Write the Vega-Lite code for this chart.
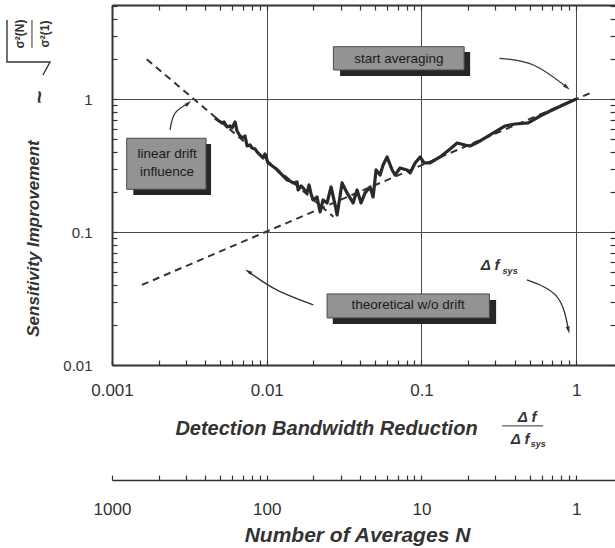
{
  "$schema": "https://vega.github.io/schema/vega-lite/v6.json",
  "width": 503,
  "height": 360,
  "autosize": {"type": "none"},
  "padding": {"left": 112, "top": 5, "right": 0, "bottom": 183},
  "background": "white",
  "config": {"view": {"stroke": null}, "font": "Liberation Sans"},
  "resolve": {"axis": {"x": "independent", "y": "independent"}},
  "datasets": {
    "curve": [
      {"x":0.004633,"y":0.7208},{"x":0.004917,"y":0.6844},{"x":0.005141,"y":0.6612},{"x":0.005297,"y":0.6727},
      {"x":0.005539,"y":0.6168},{"x":0.005791,"y":0.6276},{"x":0.005966,"y":0.6064},{"x":0.006238,"y":0.6727},
      {"x":0.006427,"y":0.5757},{"x":0.006721,"y":0.528},{"x":0.007027,"y":0.5101},{"x":0.00724,"y":0.528},
      {"x":0.00746,"y":0.444},{"x":0.0078,"y":0.4517},{"x":0.008035,"y":0.4288},{"x":0.008402,"y":0.4214},
      {"x":0.008658,"y":0.4001},{"x":0.00905,"y":0.3799},{"x":0.009465,"y":0.3607},{"x":0.00975,"y":0.3866},
      {"x":0.01019,"y":0.3308},{"x":0.01066,"y":0.3195},{"x":0.01131,"y":0.3034},{"x":0.01183,"y":0.288},
      {"x":0.01219,"y":0.2781},{"x":0.01275,"y":0.2641},{"x":0.01353,"y":0.2464},{"x":0.01415,"y":0.2422},
      {"x":0.01479,"y":0.234},{"x":0.0157,"y":0.2381},{"x":0.01594,"y":0.2073},{"x":0.01666,"y":0.2221},
      {"x":0.01717,"y":0.2146},{"x":0.01822,"y":0.1968},{"x":0.01877,"y":0.2259},{"x":0.01934,"y":0.1934},
      {"x":0.01992,"y":0.1743},{"x":0.02114,"y":0.1836},{"x":0.02211,"y":0.1416},{"x":0.02312,"y":0.1743},
      {"x":0.02454,"y":0.1655},{"x":0.02604,"y":0.2183},{"x":0.02764,"y":0.1599},{"x":0.02848,"y":0.1345},
      {"x":0.03068,"y":0.234},{"x":0.03304,"y":0.1968},{"x":0.03614,"y":0.1655},{"x":0.03835,"y":0.2073},
      {"x":0.0407,"y":0.1655},{"x":0.04319,"y":0.1968},{"x":0.04654,"y":0.2183},{"x":0.04867,"y":0.1836},
      {"x":0.05088,"y":0.2931},{"x":0.05401,"y":0.2687},{"x":0.05647,"y":0.3195},{"x":0.05993,"y":0.367},
      {"x":0.06456,"y":0.2931},{"x":0.0675,"y":0.2687},{"x":0.07272,"y":0.3034},{"x":0.08071,"y":0.2931},
      {"x":0.0844,"y":0.2781},{"x":0.09092,"y":0.3308},{"x":0.09795,"y":0.367},{"x":0.1039,"y":0.3308},
      {"x":0.1136,"y":0.3308},{"x":0.1319,"y":0.367},{"x":0.1531,"y":0.4214},{"x":0.1699,"y":0.4677},
      {"x":0.1913,"y":0.4517},{"x":0.2062,"y":0.444},{"x":0.2392,"y":0.4842},{"x":0.2775,"y":0.5372},
      {"x":0.3471,"y":0.6276},{"x":0.4027,"y":0.6498},{"x":0.4888,"y":0.6612},{"x":0.5846,"y":0.7461},
      {"x":0.6782,"y":0.8137},{"x":0.8476,"y":0.9188},{"x":1.0,"y":1.0}
    ],
    "arrows": [
      {"id":"a1","o":1,"x":0.3189,"y":2.027},{"id":"a1","o":2,"x":0.5289,"y":1.805},{"id":"a1","o":3,"x":0.8694,"y":1.227},
      {"id":"a2","o":1,"x":0.002371,"y":0.5857},{"id":"a2","o":2,"x":0.002555,"y":0.7823},{"id":"a2","o":3,"x":0.003113,"y":0.9299},
      {"id":"a3","o":1,"x":0.02001,"y":0.0283},{"id":"a3","o":2,"x":0.0116,"y":0.03669},{"id":"a3","o":3,"x":0.007605,"y":0.05039},
      {"id":"a4","o":1,"x":0.4795,"y":0.04363},{"id":"a4","o":2,"x":0.7493,"y":0.03267},{"id":"a4","o":3,"x":0.8905,"y":0.01836}
    ],
    "shadows": [
      {"x":0.02977,"x2":0.2062,"y":2.261,"y2":1.492},
      {"x":0.001373,"x2":0.004365,"y":0.4597,"y2":0.1901},
      {"x":0.02671,"x2":0.3035,"y":0.03087,"y2":0.02037}
    ],
    "boxes": [
      {"x":0.02695,"x2":0.1886,"y":2.477,"y2":1.655},
      {"x":0.001245,"x2":0.004052,"y":0.5074,"y2":0.2098},
      {"x":0.02454,"x2":0.2747,"y":0.03424,"y2":0.0226}
    ],
    "boxText": [
      {"x":0.07134,"y":2.013,"t":"start averaging"},
      {"x":0.002268,"y":0.3866,"t":"linear drift"},
      {"x":0.002268,"y":0.2831,"t":"influence"},
      {"x":0.08193,"y":0.0283,"t":"theoretical w/o drift"}
    ]
  },
  "layer": [
    {
      "data": {"values": [{"x":0.00156,"y":0.04},{"x":1.23,"y":1.11}]},
      "mark": {"type":"line","color":"#333","strokeWidth":2,"strokeDash":[7,5]},
      "encoding": {
        "x": {"field":"x","type":"quantitative","scale":{"type":"log","domain":[0.001,1.78],"nice":false},
          "axis":{"orient":"top","values":[0.001,0.002,0.003,0.004,0.005,0.006,0.007,0.008,0.009,0.01,0.02,0.03,0.04,0.05,0.06,0.07,0.08,0.09,0.1,0.2,0.3,0.4,0.5,0.6,0.7,0.8,0.9,1],
            "labels":false,"grid":false,"title":null,"tickSize":-5,"tickColor":"#333","tickWidth":1.2,"domainColor":"#333","domainWidth":2}},
        "y": {"field":"y","type":"quantitative","scale":{"type":"log","domain":[0.01,5.1],"nice":false},
          "axis":{"orient":"right","values":[0.01,0.02,0.03,0.04,0.05,0.06,0.07,0.08,0.09,0.1,0.2,0.3,0.4,0.5,0.6,0.7,0.8,0.9,1,2,3,4,5],
            "labels":false,"grid":false,"title":null,"tickSize":-5,"tickColor":"#333","tickWidth":1.2,"domain":false}}
      }
    },
    {
      "data": {"values": [{"x":0.001676,"y":1.99},{"x":0.02695,"y":0.1305}]},
      "mark": {"type":"line","color":"#333","strokeWidth":2,"strokeDash":[7,5]},
      "encoding": {
        "x": {"field":"x","type":"quantitative",
          "axis":{"orient":"bottom","offset":115,"values":[0.001,0.002,0.003,0.004,0.005,0.006,0.007,0.008,0.009,0.01,0.02,0.03,0.04,0.05,0.06,0.07,0.08,0.09,0.1,0.2,0.3,0.4,0.5,0.6,0.7,0.8,0.9,1],
            "labelExpr":"abs(log(datum.value)/LN10 - round(log(datum.value)/LN10)) < 0.001 ? format(1/datum.value, '.0f') : ''",
            "labelFontSize":17,"labelColor":"#333","labelPadding":26,"labelFlush":false,"labelOverlap":false,"labelBaseline":"top",
            "grid":false,"tickSize":-5,"tickColor":"#333","tickWidth":1.2,"domainColor":"#333","domainWidth":1.5,
            "title":"Number of Averages N","titleFontSize":21,"titleFontWeight":"bold","titleFontStyle":"italic","titleColor":"#333",
            "titleX":245,"titleY":55,"titleAlign":"center","titleBaseline":"middle"}},
        "y": {"field":"y","type":"quantitative","axis":null}
      }
    },
    {
      "data": {"name":"curve"},
      "mark": {"type":"line","color":"#2a2a2a","strokeWidth":3.2,"strokeJoin":"round"},
      "encoding": {
        "x": {"field":"x","type":"quantitative",
          "axis":{"orient":"bottom","values":[0.001,0.002,0.003,0.004,0.005,0.006,0.007,0.008,0.009,0.01,0.02,0.03,0.04,0.05,0.06,0.07,0.08,0.09,0.1,0.2,0.3,0.4,0.5,0.6,0.7,0.8,0.9,1],
            "labelExpr":"abs(log(datum.value)/LN10 - round(log(datum.value)/LN10)) < 0.001 ? format(datum.value, '~g') : ''",
            "labelFontSize":17,"labelColor":"#333","labelPadding":22,"labelFlush":false,"labelOverlap":false,"labelBaseline":"top",
            "grid":true,"gridColor":"#4a4a4a","gridWidth":1,
            "gridOpacity":{"condition":{"test":"abs(log(datum.value)/LN10 - round(log(datum.value)/LN10)) < 0.001","value":1},"value":0},
            "tickSize":-5,"tickColor":"#333","tickWidth":1.2,"domainColor":"#333","domainWidth":2,
            "title":"Detection Bandwidth Reduction","titleFontSize":20,"titleFontWeight":"bold","titleFontStyle":"italic","titleColor":"#333",
            "titleX":214,"titleY":63,"titleAlign":"center","titleBaseline":"middle"}},
        "y": {"field":"y","type":"quantitative",
          "axis":{"orient":"left","values":[0.01,0.02,0.03,0.04,0.05,0.06,0.07,0.08,0.09,0.1,0.2,0.3,0.4,0.5,0.6,0.7,0.8,0.9,1,2,3,4,5],
            "labelExpr":"abs(log(datum.value)/LN10 - round(log(datum.value)/LN10)) < 0.001 ? format(datum.value, '~g') : ''",
            "labelFontSize":15,"labelColor":"#333","labelPadding":25,"labelFlush":false,"labelOverlap":false,"labelBaseline":"middle",
            "grid":true,"gridColor":"#4a4a4a","gridWidth":1,
            "gridOpacity":{"condition":{"test":"abs(log(datum.value)/LN10 - round(log(datum.value)/LN10)) < 0.001","value":1},"value":0},
            "tickSize":-5,"tickColor":"#333","tickWidth":1.2,"domainColor":"#333","domainWidth":2,
            "title":"Sensitivity Improvement","titleFontSize":17,"titleFontWeight":"bold","titleFontStyle":"italic","titleColor":"#333",
            "titleX":-79,"titleY":233,"titleAngle":270,"titleAlign":"center","titleBaseline":"middle"}}
      }
    },
    {
      "data": {"name":"arrows"},
      "mark": {"type":"line","color":"#333","strokeWidth":1.3,"interpolate":"natural"},
      "encoding": {
        "x": {"field":"x","type":"quantitative","axis":null},
        "y": {"field":"y","type":"quantitative","axis":null},
        "detail": {"field":"id"},
        "order": {"field":"o","type":"quantitative"}
      }
    },
    {
      "data": {"values": [{"x":0.8694,"y":1.227}]},
      "mark": {"type":"point","shape":"M0,-1L0.5,0.9L-0.5,0.9Z","filled":true,"color":"#333","opacity":1,"size":60,"angle":130},
      "encoding": {"x": {"field":"x","type":"quantitative","axis":null},"y": {"field":"y","type":"quantitative","axis":null}}
    },
    {
      "data": {"values": [{"x":0.003113,"y":0.9299}]},
      "mark": {"type":"point","shape":"M0,-1L0.5,0.9L-0.5,0.9Z","filled":true,"color":"#333","opacity":1,"size":60,"angle":50},
      "encoding": {"x": {"field":"x","type":"quantitative","axis":null},"y": {"field":"y","type":"quantitative","axis":null}}
    },
    {
      "data": {"values": [{"x":0.007605,"y":0.05039}]},
      "mark": {"type":"point","shape":"M0,-1L0.5,0.9L-0.5,0.9Z","filled":true,"color":"#333","opacity":1,"size":60,"angle":302},
      "encoding": {"x": {"field":"x","type":"quantitative","axis":null},"y": {"field":"y","type":"quantitative","axis":null}}
    },
    {
      "data": {"values": [{"x":0.8905,"y":0.01836}]},
      "mark": {"type":"point","shape":"M0,-1L0.5,0.9L-0.5,0.9Z","filled":true,"color":"#333","opacity":1,"size":60,"angle":165},
      "encoding": {"x": {"field":"x","type":"quantitative","axis":null},"y": {"field":"y","type":"quantitative","axis":null}}
    },
    {
      "data": {"name":"shadows"},
      "mark": {"type":"rect","color":"#262626"},
      "encoding": {
        "x": {"field":"x","type":"quantitative","axis":null},"x2": {"field":"x2"},
        "y": {"field":"y","type":"quantitative","axis":null},"y2": {"field":"y2"}
      }
    },
    {
      "data": {"name":"boxes"},
      "mark": {"type":"rect","fill":"#939393","stroke":"#4a4a4a","strokeWidth":1},
      "encoding": {
        "x": {"field":"x","type":"quantitative","axis":null},"x2": {"field":"x2"},
        "y": {"field":"y","type":"quantitative","axis":null},"y2": {"field":"y2"}
      }
    },
    {
      "data": {"name":"boxText"},
      "mark": {"type":"text","fontSize":13.5,"color":"#1a1a1a","align":"center","baseline":"middle"},
      "encoding": {
        "x": {"field":"x","type":"quantitative","axis":null},
        "y": {"field":"y","type":"quantitative","axis":null},
        "text": {"field":"t"}
      }
    },
    {
      "data": {"values": [{"x":0.2777,"y":0.05656,"t":"Δ f"},{"x":0.4816,"y":0.004071,"t":"Δ f"},{"x":0.4339,"y":0.002782,"t":"Δ f"}]},
      "mark": {"type":"text","fontSize":15,"fontWeight":"bold","fontStyle":"italic","color":"#333","align":"center","baseline":"middle"},
      "encoding": {
        "x": {"field":"x","type":"quantitative","axis":null},
        "y": {"field":"y","type":"quantitative","axis":null},
        "text": {"field":"t"}
      }
    },
    {
      "data": {"values": [{"x":0.3739,"y":0.05098,"t":"sys"},{"x":0.5673,"y":0.002551,"t":"sys"}]},
      "mark": {"type":"text","fontSize":9,"fontWeight":"bold","fontStyle":"italic","color":"#333","align":"center","baseline":"middle"},
      "encoding": {
        "x": {"field":"x","type":"quantitative","axis":null},
        "y": {"field":"y","type":"quantitative","axis":null},
        "text": {"field":"t"}
      }
    },
    {
      "data": {"values": [{"x":0.3319,"x2":0.611,"y":0.003484}]},
      "mark": {"type":"rule","color":"#333","strokeWidth":1},
      "encoding": {
        "x": {"field":"x","type":"quantitative","axis":null},"x2": {"field":"x2"},
        "y": {"field":"y","type":"quantitative","axis":null}
      }
    },
    {
      "data": {"values": [{"x":0.0003424,"y":1.037,"t":"~"}]},
      "mark": {"type":"text","fontSize":22,"fontWeight":"bold","color":"#333","angle":270,"align":"center","baseline":"middle"},
      "encoding": {
        "x": {"field":"x","type":"quantitative","axis":null},
        "y": {"field":"y","type":"quantitative","axis":null},
        "text": {"field":"t"}
      }
    },
    {
      "data": {"values": [{"x":0.0002543,"y":3.087,"t":"σ²(N)"},{"x":0.0003688,"y":3.087,"t":"σ²(1)"}]},
      "mark": {"type":"text","fontSize":12,"fontWeight":"bold","color":"#333","angle":270,"align":"center","baseline":"middle"},
      "encoding": {
        "x": {"field":"x","type":"quantitative","axis":null},
        "y": {"field":"y","type":"quantitative","axis":null},
        "text": {"field":"t"}
      }
    },
    {
      "data": {"values": [{"x":0.000304,"y":3.933,"y2":2.423}]},
      "mark": {"type":"rule","color":"#333","strokeWidth":1},
      "encoding": {
        "x": {"field":"x","type":"quantitative","axis":null},
        "y": {"field":"y","type":"quantitative","axis":null},"y2": {"field":"y2"}
      }
    },
    {
      "data": {"values": [{"o":1,"x":0.0002096,"y":3.933},{"o":2,"x":0.0002096,"y":1.901},{"o":3,"x":0.0003974,"y":1.901},{"o":4,"x":0.0003581,"y":1.518}]},
      "mark": {"type":"line","color":"#333","strokeWidth":1.4},
      "encoding": {
        "x": {"field":"x","type":"quantitative","axis":null},
        "y": {"field":"y","type":"quantitative","axis":null},
        "order": {"field":"o","type":"quantitative"}
      }
    }
  ]
}
